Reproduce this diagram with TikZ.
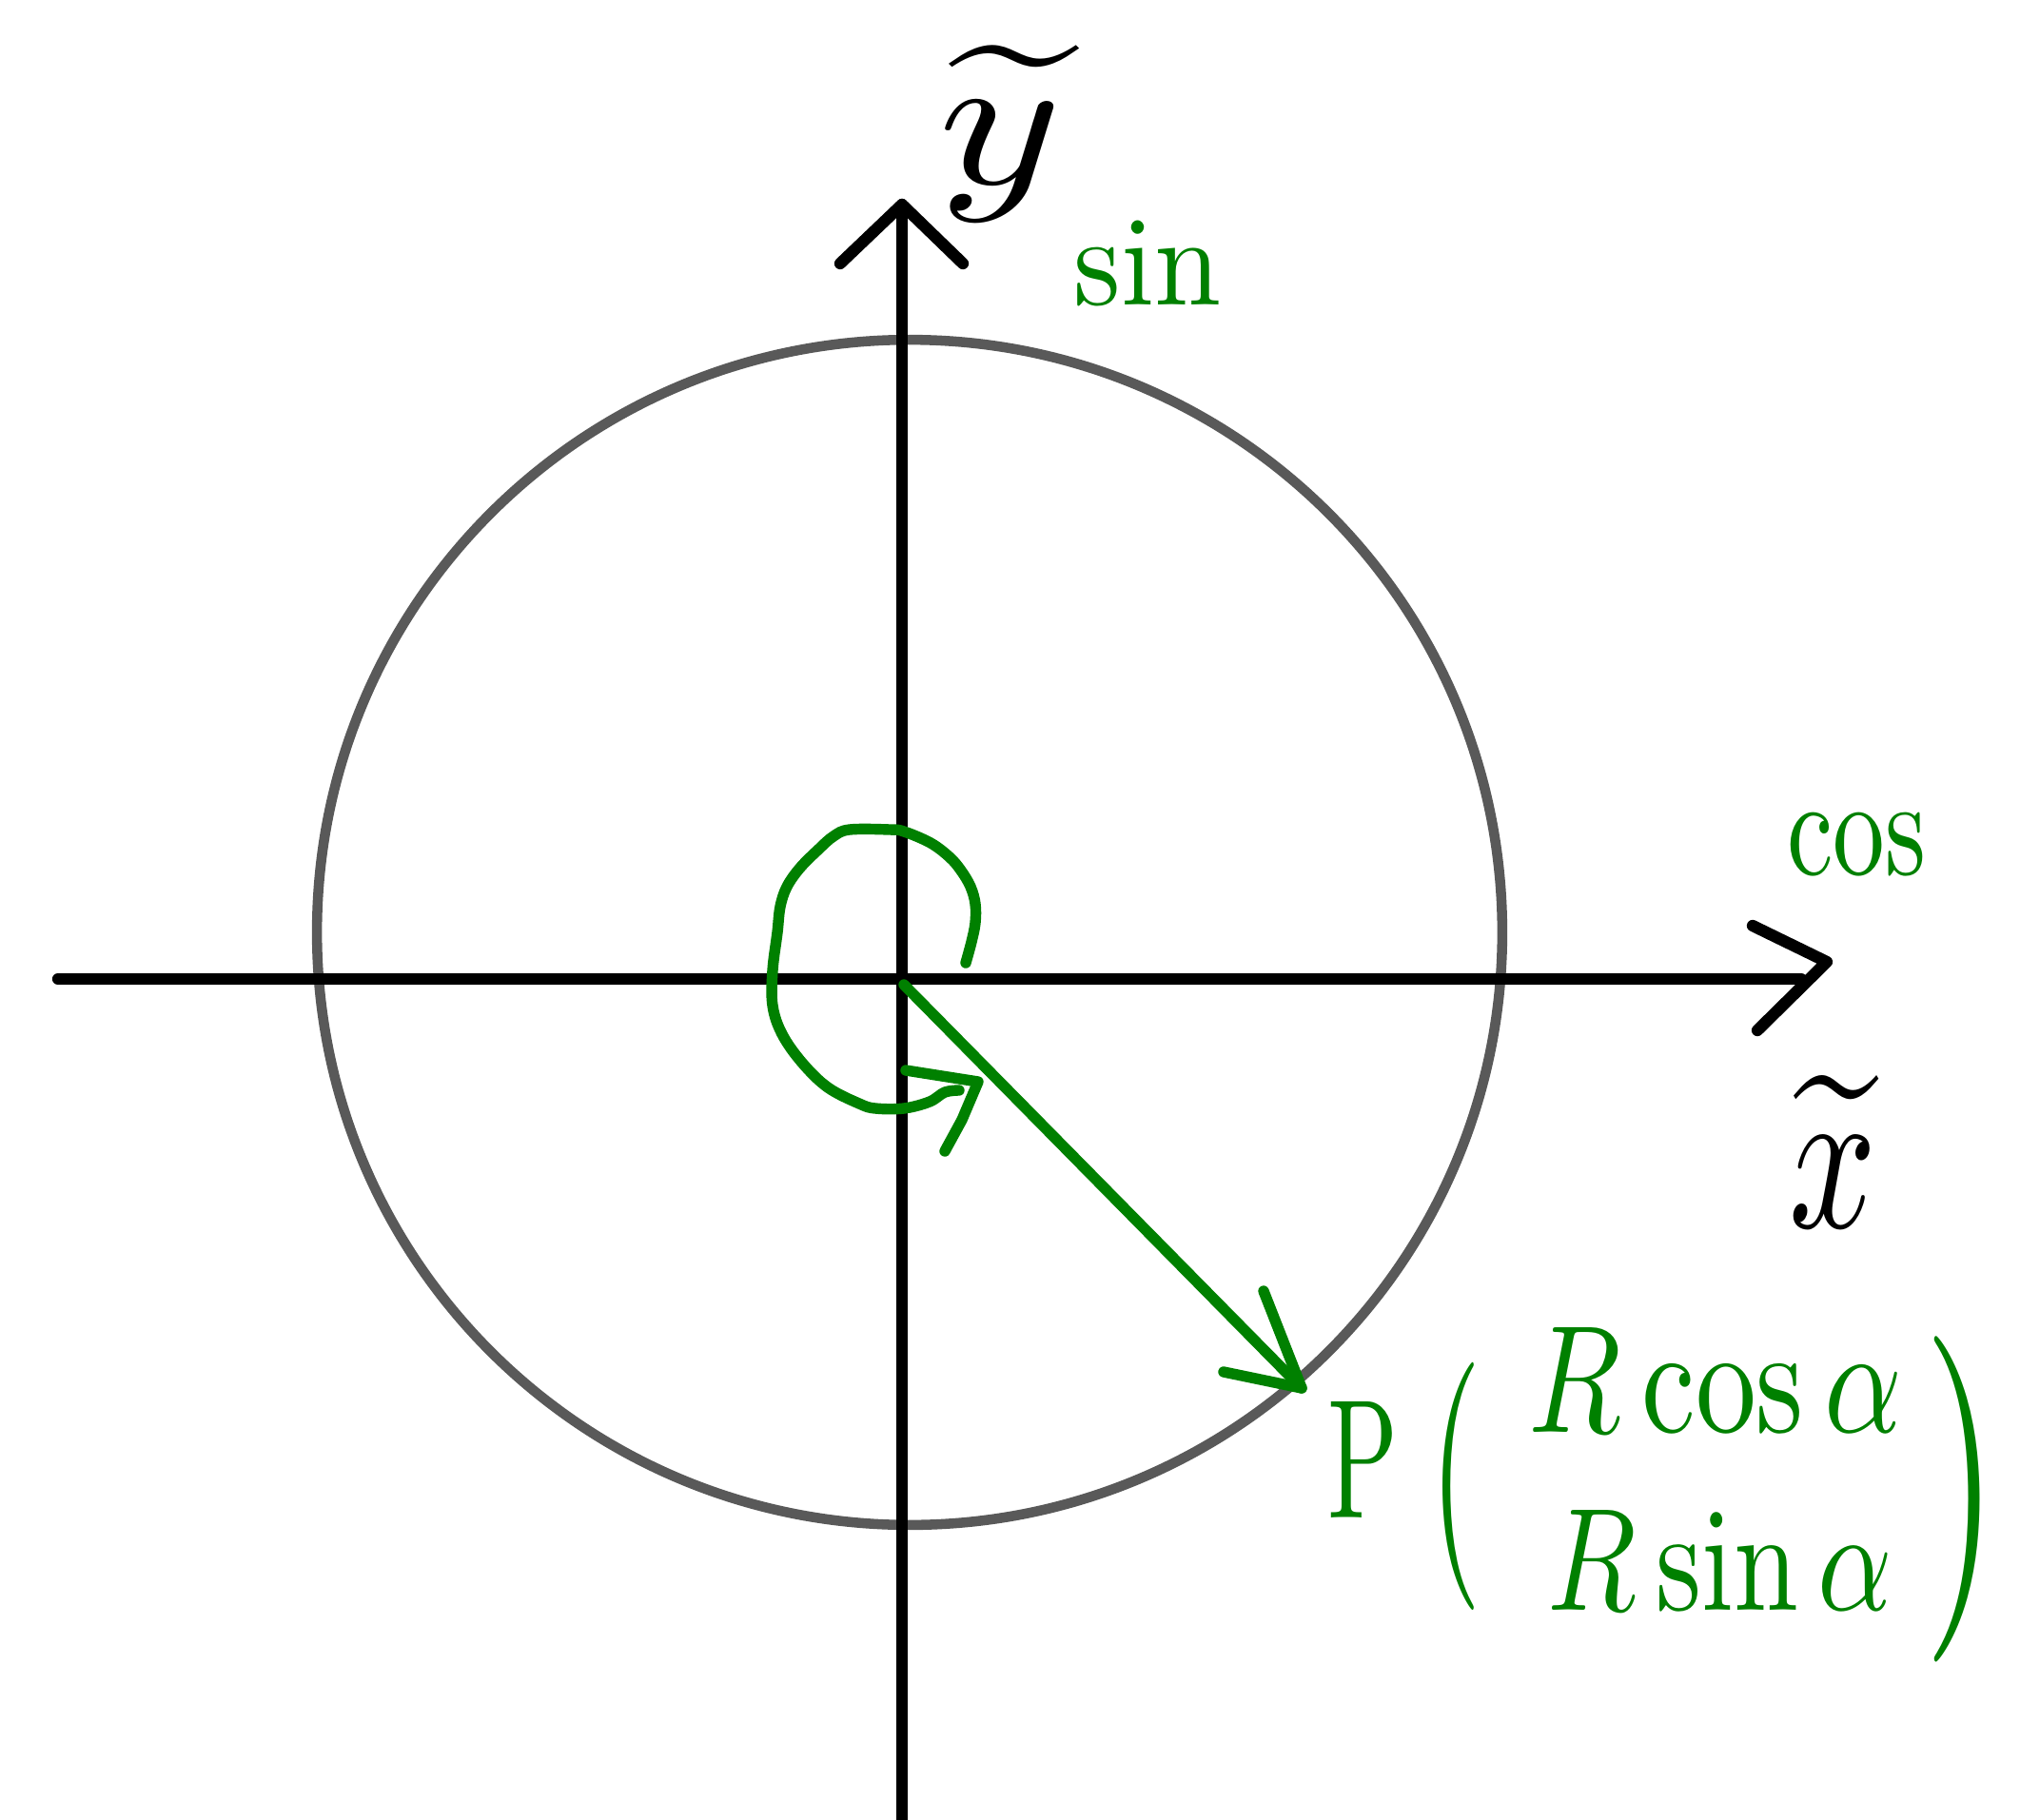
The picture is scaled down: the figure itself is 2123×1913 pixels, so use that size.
\documentclass[tikz,border=0pt]{standalone}
\usepackage{graphicx}
\definecolor{pgreen}{HTML}{008000}
\definecolor{cgray}{HTML}{595959}
\begin{document}
\begin{tikzpicture}[x=0.02cm,y=-0.02cm, line cap=round, line join=round,
  axis/.style={line width=7pt, draw=black},
  grn/.style={line width=6.5pt, draw=pgreen},
  ring/.style={line width=6pt, draw=cgray},
  lab/.style={inner sep=0pt, outer sep=0pt},
  glab/.style={lab, text=pgreen},
  blab/.style={lab, text=black}]
\useasboundingbox (0,0) rectangle (2123,1913);

% circle
\node[lab, draw=none] (C) at (956,980) {};
\draw[ring] (C.center) circle[radius=12.46cm];

% axes
\coordinate (xl) at (61,1029);
\coordinate (xr) at (1893,1029);
\coordinate (xt) at (1920,1011);
\coordinate (xa1) at (1842,973);
\coordinate (xa2) at (1847,1083);
\coordinate (yb) at (948,1925);
\coordinate (yt) at (948,215);
\coordinate (ya1) at (883,277);
\coordinate (ya2) at (1012,277);
\draw[axis] (xl) -- (xr);
\draw[axis] (xa1) -- (xt) -- (xa2);
\draw[axis] (yb) -- (yt);
\draw[axis] (ya1) -- (yt) -- (ya2);

% angle arc
\coordinate (as) at (1015,1012);
\coordinate (ae) at (1008,1146);
\draw[grn] plot[smooth, tension=0.6] coordinates {(1015,1012) (1021,990) (1025,970) (1025,950) (1020,932) (1010,915) (998,901) (978,886) (950,874) (935,872) (893,872) (876,879) (860,893) (841,912) (827,932) (820,953) (817,980) (812,1020) (812,1057) (822,1087) (843,1117) (870,1143) (903,1160) (920,1165) (950,1165) (977,1158) (993,1148) (1008,1146)};
\coordinate (aa1) at (952,1125);
\coordinate (aat) at (1028,1137);
\coordinate (aa2) at (993,1210);
\draw[grn] (aa1) -- (990,1131) -- (aat) -- (1011,1177) -- (aa2);

% radius vector
\coordinate (O) at (950,1035);
\coordinate (Pt) at (1368,1459);
\coordinate (pa1) at (1328,1357);
\coordinate (pa2) at (1286,1442);
\draw[grn] (O) -- (Pt);
\draw[grn] (pa1) -- (Pt) -- (pa2);

% labels
\node[blab] (ylab) at (1052,140) {\resizebox*{2.6cm}{3.7cm}{$\widetilde{y}$}};
\node[glab] (sinlab) at (1206,277) {\resizebox*{3.1cm}{1.8cm}{sin}};
\node[glab] (coslab) at (1951,888) {\resizebox*{2.92cm}{1.34cm}{cos}};
\node[blab] (xlab) at (1926,1210) {\resizebox*{1.84cm}{3.2cm}{$\widetilde{x}$}};
\node[glab] (P) at (1432,1534) {\resizebox*{1.48cm}{2.44cm}{P}};
\node[glab] (lp) at (1530,1562) {\resizebox*{1.1cm}{5.2cm}{(}};
\node[glab] (rc) at (1803,1450) {\resizebox*{7.86cm}{2.2cm}{$R\cos\alpha$}};
\node[glab] (rs) at (1808,1640) {\resizebox*{7.26cm}{2.1cm}{$R\sin\alpha$}};
\node[glab] (rp) at (2062,1576) {\resizebox*{1.6cm}{6.84cm}{)}};
\end{tikzpicture}
\end{document}
